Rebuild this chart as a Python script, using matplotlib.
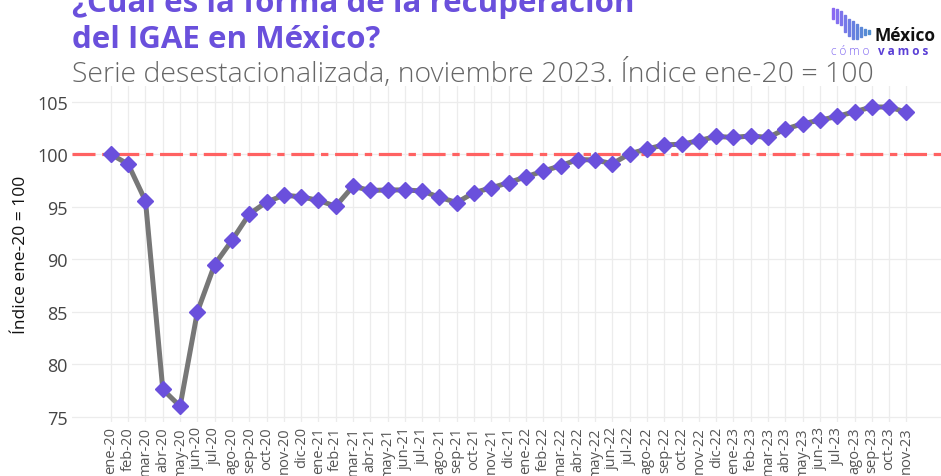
import matplotlib
matplotlib.use("Agg")
import matplotlib.pyplot as plt
from matplotlib.patches import Rectangle
import numpy as np

# monthly labels, ene-20 .. nov-23
meses = ["ene", "feb", "mar", "abr", "may", "jun",
         "jul", "ago", "sep", "oct", "nov", "dic"]
etiquetas = [f"{m}-{a}" for a in ["20", "21", "22"] for m in meses] + \
            [f"{m}-23" for m in meses[:11]]

igae = [100.0, 99.05, 95.55, 77.6, 76.0, 85.0, 89.5, 91.8, 94.3, 95.45,
        96.1, 95.95, 95.6, 95.05, 96.95, 96.55, 96.6, 96.6, 96.5, 95.9,
        95.4, 96.35, 96.8, 97.3, 97.85, 98.4, 98.9, 99.5, 99.45, 99.1,
        100.05, 100.5, 100.9, 100.95, 101.3, 101.7, 101.6, 101.75, 101.6,
        102.4, 102.9, 103.25, 103.6, 104.05, 104.5, 104.5, 104.0]
base = 100
yticks = [75, 80, 85, 90, 95, 100, 105]

plt.rcParams['font.family'] = ['Open Sans', 'DejaVu Sans']

fig = plt.figure(figsize=(9.41, 4.77), dpi=100)
ax = fig.add_axes([72/941, 54/477, 869/941, 336/477])

x = np.arange(len(igae))
ax.axhline(base, color="#ff6262", lw=2.3, dashes=(7.2, 2.1, 2.3, 2.1), zorder=2)
ax.plot(x, igae, color="#777777", lw=3.6, zorder=3)
ax.plot(x, igae, ls="none", marker="D", ms=8.5, color="#6a50dc",
        mec="#6a50dc", zorder=4)

ax.set_xlim(-2.25, 48)
ax.set_ylim(74.5, 106.5)
ax.set_xticks(x)
ax.set_xticklabels(etiquetas, rotation=90, fontsize=10.5, color="#555555")
ax.set_yticks(yticks)
ax.set_yticklabels([str(v) for v in yticks], fontsize=13, color="#444444")
ax.tick_params(length=0, pad=3)
ax.grid(True, color="#ececec", lw=0.9)
ax.set_axisbelow(True)
for s in ax.spines.values():
    s.set_visible(False)
ax.set_ylabel("Índice ene-20 = 100", fontsize=12.5, color="#111111", labelpad=6)

# titles (first line is cut at the top edge, as in the original)
fig.text(72/941, 1 - 12/477, "¿Cuál es la forma de la recuperación",
         fontsize=22.5, fontweight="bold", color="#6a50dc", va="baseline")
fig.text(72/941, 1 - 48/477, "del IGAE en México?",
         fontsize=22.5, fontweight="bold", color="#6a50dc", va="baseline")
fig.text(72/941, 1 - 82/477,
         "Serie desestacionalizada, noviembre 2023. Índice ene-20 = 100",
         fontsize=20.5, fontweight="light", color="#666666", va="baseline")

# logo
tops = [9, 10, 12, 16, 20, 22, 25, 28, 30, 31]
bots = [20, 24, 26, 33, 37, 40, 40, 38, 36, 35]
cols = ["#8a68f2", "#8470f0", "#7d74ec", "#7679e8", "#6f7de4",
        "#6880e0", "#6284dc", "#5c88d8", "#568bd4", "#508ed0"]
for i in range(len(tops)):
    x0 = 832 + i * 4
    fig.patches.append(Rectangle((x0/941, 1 - bots[i]/477), 2.2/941,
                                 (bots[i] - tops[i])/477,
                                 transform=fig.transFigure, color=cols[i]))
fig.text(874/941, 1 - 41/477, "México", fontsize=12.5, fontweight="bold",
         color="#111111", va="baseline")
fig.text(831/941, 1 - 55/477, "c ó m o", fontsize=8.5, fontweight="light",
         color="#7a60f0", va="baseline")
fig.text(878/941, 1 - 55/477, "v a m o s", fontsize=8.5, fontweight="bold",
         color="#5a3fd6", va="baseline")

fig.savefig("out.png", dpi=100)
